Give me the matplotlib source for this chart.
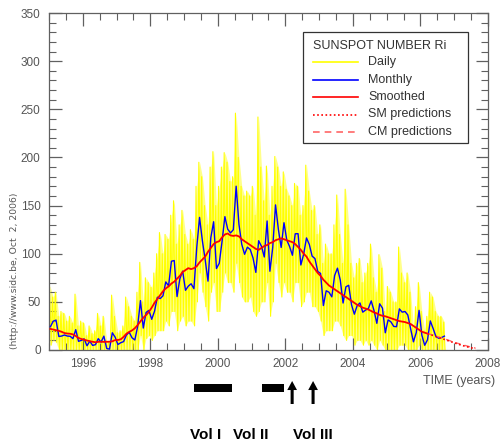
import numpy as np
import matplotlib
matplotlib.use("Agg")
import matplotlib.pyplot as plt
from matplotlib.ticker import MultipleLocator
from matplotlib.lines import Line2D
from matplotlib.patches import Rectangle

# ---------------- data ----------------
start_year = 1995
# monthly mean sunspot numbers, Jan 1995 .. Sep 2006
monthly = [
    24.2, 29.9, 31.1, 14.0, 14.5, 15.6, 14.5, 14.3, 11.8, 21.1, 9.0, 10.0,
    11.5, 4.4, 9.2, 4.8, 5.5, 11.8, 8.2, 14.4, 1.6, 0.9, 17.9, 13.3,
    5.7, 7.6, 8.7, 15.5, 18.5, 12.7, 10.4, 24.4, 51.3, 22.8, 39.0, 41.2,
    31.9, 40.3, 54.8, 53.4, 56.3, 70.7, 66.6, 92.2, 92.9, 55.5, 74.0, 81.9,
    62.0, 66.3, 68.8, 63.7, 106.4, 137.7, 113.5, 93.7, 71.5, 116.7, 133.2, 84.6,
    90.1, 112.9, 138.5, 125.5, 121.6, 124.9, 170.1, 130.5, 109.7, 99.4, 106.8, 104.4,
    95.6, 80.6, 113.5, 107.7, 96.6, 134.0, 81.8, 106.4, 150.7, 125.5, 106.5, 132.2,
    114.1, 107.4, 98.4, 120.7, 120.8, 88.3, 99.6, 116.4, 109.6, 97.5, 95.0, 81.6,
    79.5, 46.2, 61.5, 60.0, 55.2, 77.4, 85.0, 72.7, 48.8, 65.6, 67.2, 47.0,
    37.2, 46.0, 48.9, 39.3, 41.5, 43.2, 51.0, 40.9, 27.7, 48.0, 43.5, 17.9,
    31.3, 29.2, 24.5, 24.2, 42.7, 39.3, 40.0, 36.4, 22.1, 8.5, 18.0, 41.2,
    15.3, 4.9, 10.6, 30.2, 22.3, 13.9, 12.2, 12.9, 14.4,
]
# highest / lowest daily value in each month
daily_hi = [
    65, 55, 60, 35, 40, 38, 30, 35, 28, 58, 25, 30,
    28, 15, 25, 17, 20, 38, 25, 35, 10, 9, 57, 35,
    18, 20, 25, 55, 45, 35, 30, 60, 91, 50, 75, 70,
    65, 80, 100, 122, 100, 120, 115, 140, 155, 110, 130, 145,
    120, 110, 125, 115, 170, 195, 180, 150, 130, 190, 206, 150,
    170, 190, 205, 195, 175, 180, 246, 200, 170, 160, 165, 160,
    170, 140, 242, 190, 155, 191, 140, 170, 201, 190, 170, 185,
    167, 160, 150, 173, 170, 140, 150, 192, 165, 145, 150, 120,
    130, 90, 110, 100, 100, 130, 161, 120, 90, 167, 130, 90,
    75, 90, 95, 70, 80, 90, 110, 75, 60, 99, 85, 40,
    66, 60, 50, 50, 107, 80, 70, 80, 60, 25, 45, 70,
    40, 20, 35, 60, 55, 40, 35, 35, 29,
]
daily_lo = [
    5, 10, 8, 0, 0, 0, 0, 0, 0, 0, 0, 0,
    0, 0, 0, 0, 0, 0, 0, 0, 0, 0, 0, 0,
    0, 0, 0, 0, 0, 0, 0, 0, 15, 0, 12, 15,
    10, 15, 20, 20, 20, 30, 25, 40, 40, 20, 30, 35,
    25, 30, 30, 25, 50, 80, 60, 45, 30, 60, 70, 40,
    40, 60, 80, 70, 70, 60, 90, 70, 55, 50, 50, 55,
    40, 35, 40, 50, 50, 70, 35, 50, 90, 70, 55, 70,
    60, 60, 50, 70, 70, 45, 50, 60, 60, 45, 45, 40,
    30, 15, 20, 20, 20, 30, 30, 25, 15, 10, 15, 15,
    5, 10, 10, 5, 10, 5, 10, 5, 0, 10, 5, 0,
    0, 0, 0, 0, 5, 5, 5, 0, 0, 0, 0, 5,
    0, 0, 0, 0, 0, 0, 0, 0, 0,
]
# 13-month smoothed, Jan 1995 .. Mar 2006
smoothed = [
    21.9, 21.2, 20.6, 19.9, 18.9, 17.6, 17.1, 16.9, 16.2, 14.5, 12.5, 11.4,
    10.6, 9.8, 9.1, 8.6, 8.0, 8.5, 8.6, 8.4, 8.5, 8.6, 9.0, 10.3,
    10.4, 11.1, 13.6, 16.9, 18.8, 20.3, 22.6, 25.9, 29.8, 33.5, 36.3, 39.6,
    44.0, 49.0, 53.0, 57.0, 61.0, 64.0, 66.0, 69.0, 71.0, 74.0, 77.0, 81.0,
    83.0, 85.0, 84.0, 85.0, 87.0, 91.0, 94.0, 97.0, 102.0, 106.0, 110.0, 112.0,
    113.0, 117.0, 120.0, 121.0, 119.0, 118.5, 119.0, 118.0, 115.0, 113.0, 111.0, 109.0,
    107.0, 105.0, 104.0, 106.0, 108.0, 109.0, 111.0, 112.0, 114.0, 115.0, 116.0, 115.0,
    114.0, 113.0, 112.0, 110.0, 107.0, 104.0, 100.0, 97.0, 92.0, 88.0, 84.0, 80.0,
    77.0, 73.0, 70.0, 67.0, 65.0, 63.0, 61.0, 59.0, 57.0, 55.0, 53.0, 51.0,
    49.0, 47.0, 45.5, 44.0, 43.0, 42.0, 40.5, 39.0, 38.0, 36.5, 35.5, 35.0,
    34.0, 33.0, 32.0, 31.0, 30.0, 29.5, 29.0, 28.0, 27.0, 25.0, 23.0, 21.0,
    19.0, 18.0, 17.0,
]
# predictions, Mar 2006 .. Aug 2007
sm_pred = [17.0, 16.0, 15.0, 14.0, 13.0, 12.0, 11.0, 10.0, 9.0, 8.0, 7.0, 6.0,
           5.0, 4.2, 3.4, 2.7, 2.0, 1.4]
cm_pred = [17.0, 16.2, 15.3, 14.4, 13.5, 12.6, 11.6, 10.6, 9.6, 8.6, 7.6, 6.7,
           5.8, 5.0, 4.2, 3.4, 2.7, 2.0]
pred_start_month = 134  # index of Mar 2006 counted from Jan 1995

vol_bars = [(1999.29, 2000.42), (2001.31, 2001.96)]
vol_arrows = [2002.20, 2002.82]
vol_labels = ["Vol I", "Vol II", "Vol III"]
vol_label_x = [1999.65, 2000.98, 2002.82]

# ---------------- figure ----------------
W, H = 502, 441
fig = plt.figure(figsize=(W / 100, H / 100), dpi=100)
ax = fig.add_axes([49 / W, 1 - 350 / H, 439 / W, 337 / H])

gray = "#555555"
m = np.arange(len(monthly))
t_mid = start_year + (m + 0.5) / 12.0

# daily: zigzag between monthly extremes
t_hi = start_year + (m + 0.25) / 12.0
t_lo = start_year + (m + 0.75) / 12.0
tz = np.empty(2 * len(m))
vz = np.empty(2 * len(m))
tz[0::2] = t_hi
tz[1::2] = t_lo
vz[0::2] = daily_hi
vz[1::2] = daily_lo
ax.fill_between(t_mid, daily_lo, daily_hi, color="#ffff8a", lw=0, zorder=1)
ax.plot(tz, vz, color="#ffff00", lw=0.8, zorder=2)

ax.plot(t_mid, monthly, color="#0000ff", lw=1.0, zorder=3)
ts = start_year + (np.arange(len(smoothed)) + 0.5) / 12.0
ax.plot(ts, smoothed, color="#ff0000", lw=1.3, zorder=4)
tp = start_year + (pred_start_month + np.arange(len(sm_pred)) + 0.5) / 12.0
ax.plot(tp, cm_pred, color="#ff6666", lw=1.0, ls=(0, (4, 3)), zorder=4)
ax.plot(tp, sm_pred, color="#ff0000", lw=1.2, ls=(0, (1, 1.5)), zorder=5)

ax.set_xlim(1995, 2008)
ax.set_ylim(0, 350)
ax.xaxis.set_major_locator(MultipleLocator(2))
ax.xaxis.set_minor_locator(MultipleLocator(0.5))
ax.yaxis.set_major_locator(MultipleLocator(50))
ax.yaxis.set_minor_locator(MultipleLocator(10))
ax.tick_params(which="both", direction="in", top=True, right=True,
               color="#606060", labelcolor=gray, labelsize=8.5)
ax.tick_params(which="major", length=9, width=0.9, pad=6)
ax.tick_params(which="minor", length=5, width=0.8)
for lab in ax.get_xticklabels() + ax.get_yticklabels():
    lab.set_family(["Liberation Sans", "DejaVu Sans"])
for s in ax.spines.values():
    s.set_color("#606060")
    s.set_linewidth(0.9)

# legend drawn by hand
def px(x, y):
    return x / W, 1 - y / H

lx0, ly0 = px(303, 143)
lx1, ly1 = px(468, 32)
fig.patches.append(Rectangle((lx0, ly0), lx1 - lx0, ly1 - ly0, transform=fig.transFigure,
                             fill=True, facecolor="white", edgecolor="#333333", lw=0.9,
                             zorder=10))
fnt = ["Liberation Sans", "DejaVu Sans"]
fig.text(*px(313, 46), "SUNSPOT NUMBER Ri", family=fnt, fontsize=9, color="#333333",
         va="center", ha="left", zorder=11)
entries = [("Daily", "#ffff00", "-"), ("Monthly", "#0000ff", "-"),
           ("Smoothed", "#ff0000", "-"), ("SM predictions", "#ff0000", (0, (1, 1.5))),
           ("CM predictions", "#ff6666", (0, (4, 3)))]
for k, (name, col, ls) in enumerate(entries):
    yy = 62 + k * 17.5
    x0, y0 = px(313, yy)
    x1, _ = px(358, yy)
    fig.add_artist(Line2D([x0, x1], [y0, y0], color=col, lw=1.2, ls=ls,
                          transform=fig.transFigure, zorder=11))
    fig.text(*px(368, yy), name, family=fnt, fontsize=9, color="#333333",
             va="center", ha="left", zorder=11)

# rotated source text
fig.text(*px(15, 271), "(http://www.sidc.be, Oct  2, 2006)", rotation=90,
         family=["DejaVu Sans"], fontsize=6.7, color=gray, va="center", ha="center")
fig.text(*px(423, 381), "TIME (years)", family=fnt, fontsize=9, color=gray,
         va="center", ha="left")

# volume bars, arrows, labels under the axis
tr = ax.get_xaxis_transform()
def yf(ypix):
    return (350 - ypix) / 337.0

for a, b in vol_bars:
    ax.add_patch(Rectangle((a, yf(392)), b - a, yf(384) - yf(392), transform=tr,
                           color="black", clip_on=False, lw=0))
for xa in vol_arrows:
    ax.annotate("", xy=(xa, yf(381)), xytext=(xa, yf(404)), xycoords=tr, textcoords=tr,
                arrowprops=dict(width=2.2, headwidth=7.0, headlength=6.5,
                                facecolor="black", edgecolor="black", lw=0,
                                shrink=0.0),
                annotation_clip=False)
for lx, lab in zip(vol_label_x, vol_labels):
    ax.text(lx, yf(435), lab, transform=tr, ha="center", va="center",
            family=["Liberation Sans", "DejaVu Sans"], fontweight="bold",
            fontsize=11, color="black", clip_on=False)

fig.savefig("out.png", dpi=100)
